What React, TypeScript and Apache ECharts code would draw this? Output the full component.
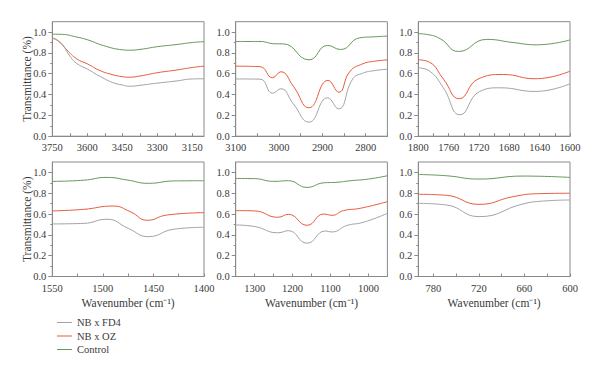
import React, { useEffect, useRef } from "react";
import * as echarts from "echarts";

const seriesNames = ["NB x FD4", "NB x OZ", "Control"];
const seriesColors = ["#a3a3a3", "#e65c3a", "#65995a"];

// Panel ranges (wavenumber, axis drawn decreasing)
const ranges: [number, number][] = [
  [3100, 3750],
  [2750, 3100],
  [1600, 1800],
  [1400, 1550],
  [950, 1350],
  [600, 800],
];
const tickLabels: number[][] = [
  [3750, 3600, 3450, 3300, 3150],
  [3100, 3000, 2900, 2800],
  [1800, 1760, 1720, 1680, 1640, 1600],
  [1550, 1500, 1450, 1400],
  [1300, 1200, 1100, 1000],
  [780, 720, 660, 600],
];
const tickMinor: number[][] = [
  [3675, 3525, 3375, 3225],
  [3050, 2950, 2850, 2750],
  [1780, 1740, 1700, 1660, 1620],
  [1525, 1475, 1425],
  [1350, 1250, 1150, 1050, 950],
  [750, 690, 630],
];
const yLabels = [0, 0.2, 0.4, 0.6, 0.8, 1.0];
const yMinor = [0.1, 0.3, 0.5, 0.7, 0.9];

// Panel 1: 3750-3100
const p1FD4: [number, number][] = [
  [3750, 0.94], [3730, 0.925], [3706, 0.88], [3678, 0.78], [3646, 0.7], [3600, 0.645],
  [3545, 0.574], [3488, 0.513], [3450, 0.492], [3420, 0.48], [3370, 0.49],
  [3300, 0.51], [3220, 0.53], [3150, 0.55], [3100, 0.552],
];
const p1OZ: [number, number][] = [
  [3750, 0.945], [3735, 0.93], [3717, 0.9], [3688, 0.83], [3646, 0.744], [3600, 0.695],
  [3545, 0.63], [3490, 0.59], [3450, 0.572], [3420, 0.567], [3370, 0.58],
  [3300, 0.61], [3220, 0.635], [3150, 0.66], [3100, 0.673],
];
const p1Ctrl: [number, number][] = [
  [3750, 0.98], [3706, 0.978], [3650, 0.955], [3600, 0.927], [3530, 0.87],
  [3450, 0.83], [3420, 0.826], [3370, 0.835], [3300, 0.86], [3220, 0.88],
  [3150, 0.9], [3100, 0.908],
];

// Panel 2: 3100-2750
const p2FD4: [number, number][] = [
  [3100, 0.55], [3044, 0.548], [3015, 0.413], [2996, 0.456],
  [2967, 0.31], [2931, 0.135], [2888, 0.369], [2863, 0.263],
  [2830, 0.55], [2807, 0.605], [2780, 0.63], [2750, 0.643],
];
const p2OZ: [number, number][] = [
  [3100, 0.673], [3044, 0.668], [3015, 0.562], [2996, 0.619],
  [2967, 0.48], [2931, 0.273], [2887, 0.536], [2862, 0.423],
  [2837, 0.62], [2807, 0.695], [2780, 0.72], [2750, 0.733],
];
const p2Ctrl: [number, number][] = [
  [3100, 0.91], [3044, 0.91], [3010, 0.888], [2990, 0.887],
  [2931, 0.734], [2888, 0.872], [2858, 0.833],
  [2814, 0.945], [2780, 0.955], [2750, 0.962],
];

// Panel 3: 1800-1600
const p3FD4: [number, number][] = [
  [1800, 0.657], [1785, 0.625], [1767, 0.465], [1745, 0.206],
  [1719, 0.43], [1692, 0.465], [1646, 0.43], [1600, 0.504],
];
const p3OZ: [number, number][] = [
  [1800, 0.734], [1785, 0.71], [1767, 0.55], [1746, 0.36],
  [1721, 0.55], [1688, 0.593], [1646, 0.552], [1600, 0.625],
];
const p3Ctrl: [number, number][] = [
  [1800, 0.985], [1789, 0.978], [1771, 0.936], [1747, 0.814],
  [1710, 0.93], [1675, 0.9], [1644, 0.878], [1600, 0.925],
];

// Panel 4: 1550-1400
const p4FD4: [number, number][] = [
  [1550, 0.505], [1519, 0.51], [1496, 0.55], [1475, 0.463], [1455, 0.383],
  [1430, 0.454], [1400, 0.473],
];
const p4OZ: [number, number][] = [
  [1550, 0.63], [1519, 0.645], [1490, 0.677], [1473, 0.623], [1456, 0.54],
  [1437, 0.59], [1400, 0.613],
];
const p4Ctrl: [number, number][] = [
  [1550, 0.914], [1519, 0.925], [1496, 0.952], [1476, 0.927], [1455, 0.895],
  [1430, 0.918], [1400, 0.92],
];

// Panel 5: 1350-950
const p5FD4: [number, number][] = [
  [1350, 0.495], [1300, 0.48], [1239, 0.42], [1211, 0.44], [1162, 0.32],
  [1114, 0.437], [1096, 0.428], [1057, 0.49], [1014, 0.52], [950, 0.607],
];
const p5OZ: [number, number][] = [
  [1350, 0.633], [1300, 0.63], [1239, 0.569], [1211, 0.597], [1162, 0.492],
  [1118, 0.6], [1096, 0.588], [1066, 0.633], [1022, 0.655], [950, 0.719],
];
const p5Ctrl: [number, number][] = [
  [1350, 0.942], [1300, 0.94], [1250, 0.914], [1211, 0.92], [1162, 0.856],
  [1118, 0.9], [1083, 0.905], [1048, 0.92], [1000, 0.936], [950, 0.968],
];

// Panel 6: 800-600
const p6FD4: [number, number][] = [
  [800, 0.703], [763, 0.687], [720, 0.575],
  [662, 0.697], [635, 0.725], [600, 0.735],
];
const p6OZ: [number, number][] = [
  [800, 0.79], [763, 0.78], [720, 0.693], [675, 0.767], [644, 0.795], [600, 0.8],
];
const p6Ctrl: [number, number][] = [
  [800, 0.98], [763, 0.968], [720, 0.936], [662, 0.965], [600, 0.952],
];

const panels = [
  [p1FD4, p1OZ, p1Ctrl],
  [p2FD4, p2OZ, p2Ctrl],
  [p3FD4, p3OZ, p3Ctrl],
  [p4FD4, p4OZ, p4Ctrl],
  [p5FD4, p5OZ, p5Ctrl],
  [p6FD4, p6OZ, p6Ctrl],
];

const FONT = "Liberation Serif";
const AXIS = "#8a8a8a";
const TEXT = "#3a3a3a";

export default function App() {
  const ref = useRef<HTMLDivElement>(null);
  useEffect(() => {
    if (!ref.current) return;
    const chart = echarts.init(ref.current, undefined, { renderer: "svg" });
    const lefts = [52.3, 235.7, 418.3];
    const tops = [21.7, 162];
    const grids: any[] = [];
    const xAxes: any[] = [];
    const yAxes: any[] = [];
    const series: any[] = [];
    for (let i = 0; i < 6; i++) {
      const row = Math.floor(i / 3);
      const col = i % 3;
      grids.push({
        left: lefts[col],
        top: tops[row],
        width: 151.7,
        height: 114.5,
        show: true,
        borderColor: AXIS,
        borderWidth: 1,
        backgroundColor: "transparent",
      });
      xAxes.push({
        type: "value",
        gridIndex: i,
        inverse: true,
        min: ranges[i][0],
        max: ranges[i][1],
        axisLine: { show: true, lineStyle: { color: AXIS } },
        axisTick: {
          show: true,
          inside: true,
          length: 3,
          customValues: [...tickLabels[i], ...tickMinor[i]],
          lineStyle: { color: AXIS },
        },
        axisLabel: {
          customValues: tickLabels[i],
          formatter: (v: number) => String(v),
          color: TEXT,
          fontFamily: FONT,
          fontSize: 10.5,
          margin: 6,
          showMinLabel: true,
          showMaxLabel: true,
        },
        splitLine: { show: false },
        name: row === 1 ? "Wavenumber (cm⁻¹)" : "",
        nameLocation: "middle",
        nameGap: 20,
        nameMoveOverlap: false,
        nameTextStyle: { color: TEXT, fontFamily: FONT, fontSize: 11.5 },
      });
      yAxes.push({
        type: "value",
        gridIndex: i,
        min: 0,
        max: 1.1,
        axisLine: { show: true, lineStyle: { color: AXIS } },
        axisTick: {
          show: true,
          inside: false,
          length: 4,
          customValues: yLabels,
          lineStyle: { color: AXIS },
        },
        axisLabel: {
          customValues: yLabels,
          formatter: (v: number) => v.toFixed(1),
          color: TEXT,
          fontFamily: FONT,
          fontSize: 10.5,
          margin: 6,
        },
        splitLine: { show: false },
        name: col === 0 ? "Transmittance (%)" : "",
        nameLocation: "middle",
        nameGap: 19,
        nameMoveOverlap: false,
        nameTextStyle: { color: TEXT, fontFamily: FONT, fontSize: 11.5 },
      });
    }
    // minor y ticks
    for (let i = 0; i < 6; i++) {
      yAxes.push({
        type: "value",
        gridIndex: i,
        min: 0,
        max: 1.1,
        position: "left",
        axisLine: { show: false },
        axisTick: {
          show: true,
          inside: false,
          length: 2,
          customValues: yMinor,
          lineStyle: { color: AXIS },
        },
        axisLabel: { show: false },
        splitLine: { show: false },
      });
    }
    for (let i = 0; i < 6; i++) {
      panels[i].forEach((data, s) => {
        series.push({
          type: "line",
          name: seriesNames[s],
          xAxisIndex: i,
          yAxisIndex: i,
          data,
          smooth: 0.5,
          showSymbol: false,
          symbol: "none",
          lineStyle: { color: seriesColors[s], width: 1 },
          itemStyle: { color: seriesColors[s] },
          z: 3 - s,
        });
      });
    }
    chart.setOption({
      animation: false,
      backgroundColor: "#ffffff",
      grid: grids,
      xAxis: xAxes,
      yAxis: yAxes,
      series,
      legend: {
        data: seriesNames,
        orient: "vertical",
        left: 52,
        top: 312,
        icon: "rect",
        itemWidth: 15,
        itemHeight: 1,
        itemGap: 2.5,
        textStyle: { color: TEXT, fontFamily: FONT, fontSize: 10.5, lineHeight: 10 },
      },
    });
    return () => chart.dispose();
  }, []);
  return (
    <div
      ref={ref}
      style={{ position: "fixed", left: 0, top: 0, width: 600, height: 369 }}
    />
  );
}
